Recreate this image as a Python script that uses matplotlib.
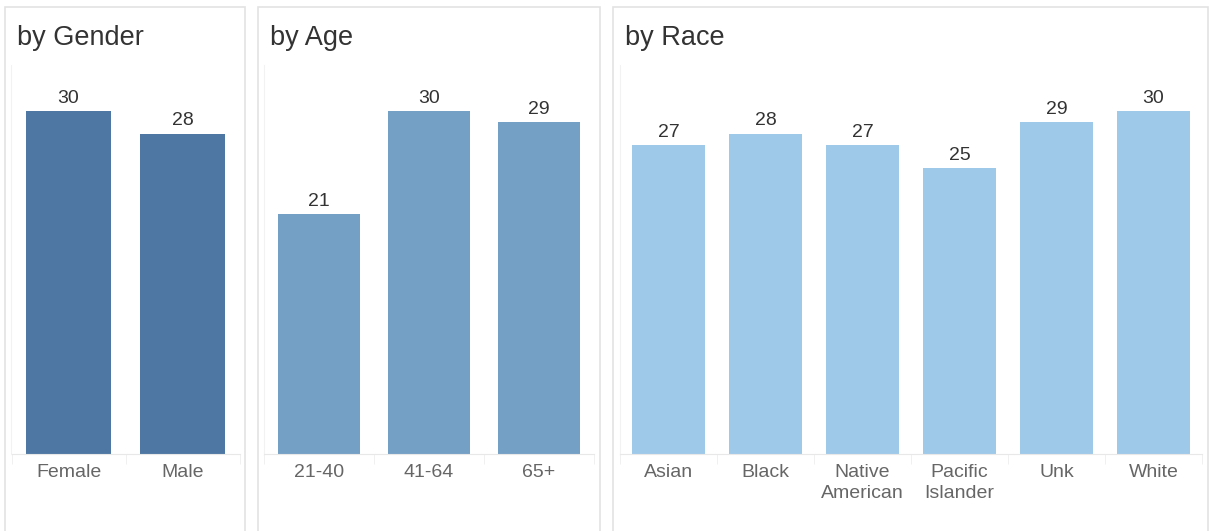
import matplotlib.pyplot as plt
import numpy as np
from matplotlib.patches import Rectangle

plt.rcParams['font.family'] = ['Liberation Sans', 'DejaVu Sans']

gender_labels = ['Female', 'Male']
gender_values = [30, 28]
age_labels = ['21-40', '41-64', '65+']
age_values = [21, 30, 29]
race_labels = ['Asian', 'Black', 'Native\nAmerican', 'Pacific\nIslander', 'Unk', 'White']
race_values = [27, 28, 27, 25, 29, 30]

W, H = 1210, 531
fig = plt.figure(figsize=(W / 100, H / 100), dpi=100)

# panel boxes (pixel coords: left, right) and plot areas
panels = [
    ('by Gender', gender_labels, gender_values, '#4e77a3', (5, 245), (11.5, 239.5)),
    ('by Age', age_labels, age_values, '#74a0c6', (258, 600), (264, 594)),
    ('by Race', race_labels, race_values, '#9fc9e8', (613, 1208), (620, 1202)),
]

top_px, base_px = 65, 454
for title, labels, values, color, (bx0, bx1), (ax0, ax1) in panels:
    # box runs off the bottom of the image like in the original
    fig.patches.append(Rectangle((bx0 / W, -0.05), (bx1 - bx0) / W, 1.05 - 7 / H,
                                 transform=fig.transFigure, fill=False,
                                 edgecolor='#e3e3e3', lw=1.2))
    fig.text((bx0 + 12) / W, 1 - 38 / H, title, fontsize=19.5, color='#333333',
             va='center', ha='left')
    ax = fig.add_axes([ax0 / W, 1 - base_px / H, (ax1 - ax0) / W, (base_px - top_px) / H])
    x = np.arange(len(values))
    ax.bar(x, values, width=0.75, color=color)
    for xi, v in zip(x, values):
        ax.annotate(str(v), (xi, v), xytext=(0, 3), textcoords='offset points',
                    ha='center', va='bottom', fontsize=14, color='#333333')
    ax.set_xlim(-0.5, len(values) - 0.5)
    ax.set_ylim(0, 34)
    ax.set_yticks([])
    ax.set_xticks(x)
    ax.set_xticklabels(labels, fontsize=14, color='#666666', linespacing=1.35)
    ax.tick_params(axis='x', length=0, pad=7)
    ax.set_xticks(np.arange(len(values) + 1) - 0.5, minor=True)
    ax.tick_params(axis='x', which='minor', length=7, color='#eeeeee')
    for s in ['top', 'right']:
        ax.spines[s].set_visible(False)
    ax.spines['left'].set_color('#f2f2f2')
    ax.spines['bottom'].set_color('#e8e8e8')

fig.savefig('out.png', dpi=100)
